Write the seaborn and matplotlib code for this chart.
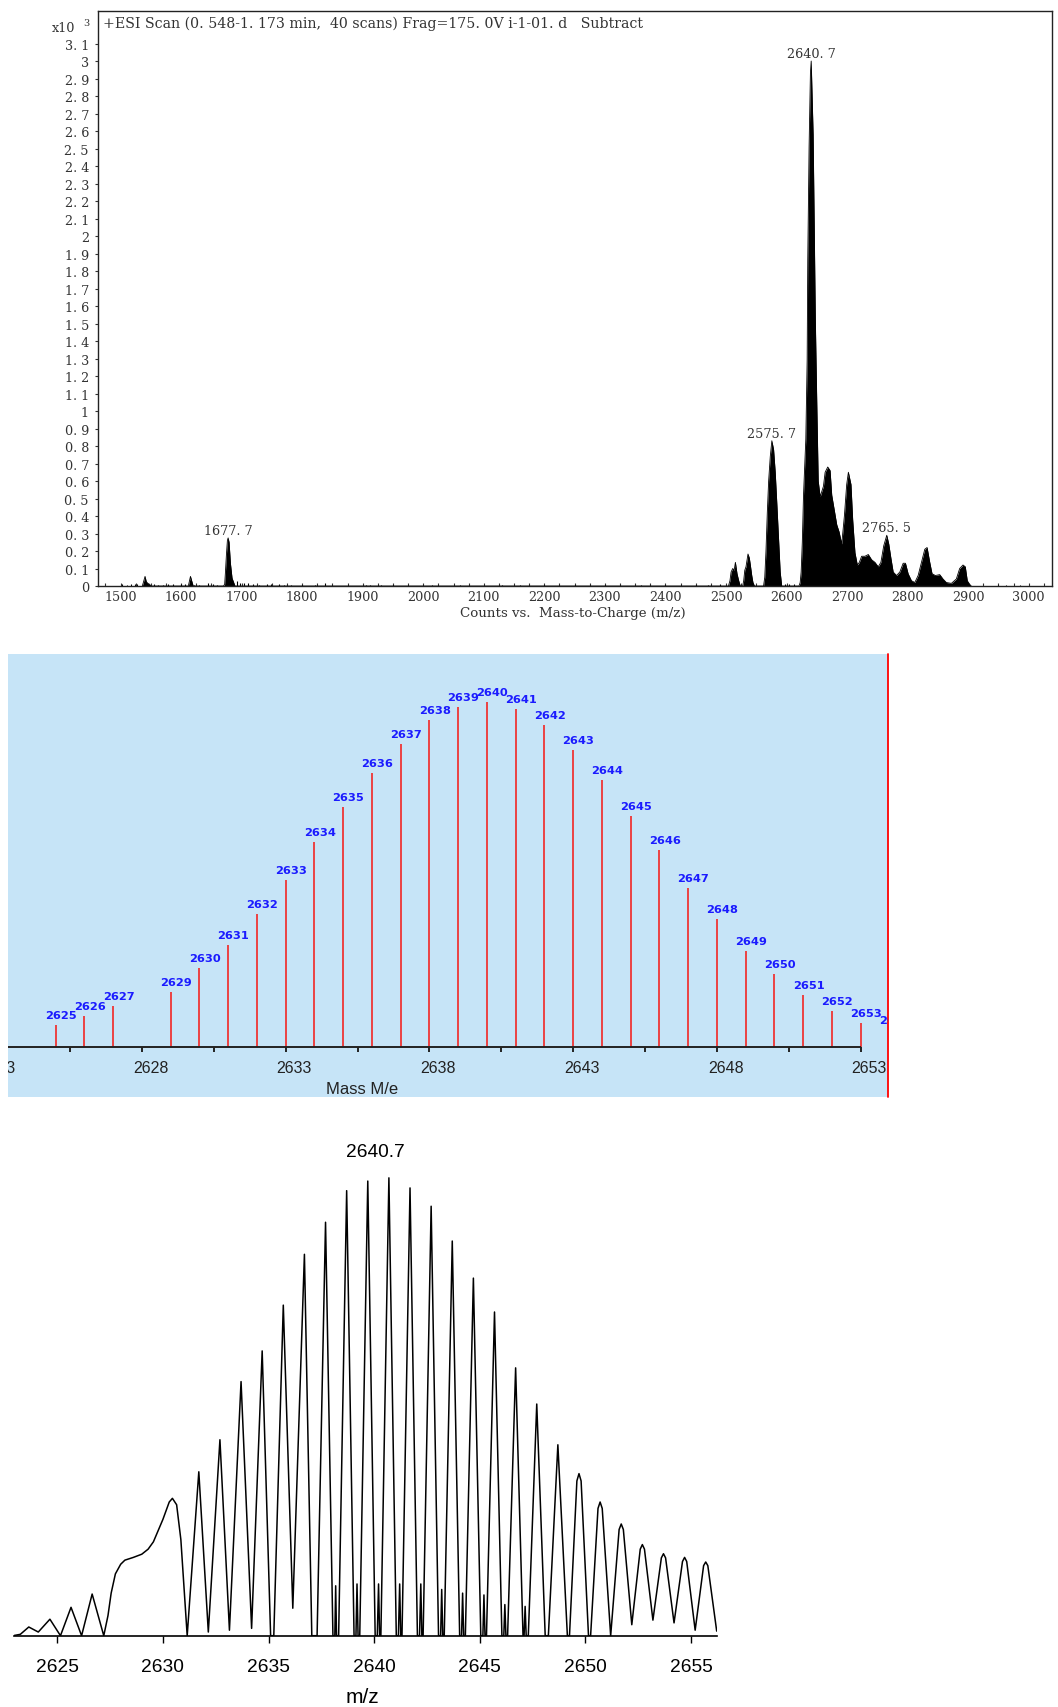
import numpy as np
import pandas as pd
import matplotlib
matplotlib.use("Agg")
import matplotlib.pyplot as plt
import seaborn as sns

# ---------------- Panel 1: ESI scan (counts x10^3 vs m/z) ----------------
ms_mz = [1536, 1538.5, 1540.5, 1542.5, 1545, 1548, 1550,
         1612, 1615.5, 1617.5, 1620,
         1670, 1672, 1673.2, 1674.9, 1676.5, 1677.7, 1679.3, 1681.5, 1684.2, 1686.9, 1689,
         2504, 2506.5, 2508.4, 2511.1, 2513.5, 2515.5, 2518.2, 2521, 2523.5,
         2527.5, 2529.2, 2531, 2533, 2536.3, 2538.5, 2540.2, 2542.5, 2544.5, 2547,
         2562, 2564, 2566, 2568.2, 2570.4, 2573.1, 2575.7, 2578.6, 2581.3, 2584.1, 2586.8, 2589.5, 2592,
         2620.5, 2622.5, 2624.1, 2626, 2628.0, 2631.8, 2634.0, 2635.0, 2637.2, 2639.4, 2640.7,
         2643.9, 2645.5, 2647.5, 2649.8, 2652.3, 2655.5, 2660.9, 2663.7, 2668.0, 2671.9, 2674.6,
         2679.0, 2682.9, 2686.7, 2691.1, 2695.5, 2699.3, 2702.1, 2706.4, 2709.2, 2713.0, 2716.9,
         2720.2, 2724.0, 2729.5, 2735.0, 2740.5, 2746.0, 2751.4, 2755.8, 2760.5, 2765.5, 2768.8,
         2772.3, 2776.1, 2781.6, 2787.1, 2792.6, 2796.4, 2800.8, 2806.3, 2811.8, 2817.3, 2822.8,
         2828.3, 2832.1, 2836.5, 2840.3, 2845.8, 2853.0, 2858.4, 2863.9, 2872.2, 2880.4, 2885.9,
         2891.4, 2895.2, 2898.5, 2902.3, 2905]
ms_int = [0, 0.03, 0.055, 0.025, 0.015, 0.01, 0,
          0, 0.055, 0.03, 0,
          0, 0.01, 0.075, 0.18, 0.26, 0.275, 0.25, 0.13, 0.045, 0.02, 0,
          0, 0.03, 0.08, 0.10, 0.09, 0.135, 0.07, 0.03, 0.0,
          0.0, 0.03, 0.09, 0.11, 0.183, 0.16, 0.12, 0.06, 0.02, 0,
          0, 0.05, 0.20, 0.42, 0.60, 0.74, 0.83, 0.78, 0.65, 0.46, 0.27, 0.08, 0,
          0, 0.02, 0.08, 0.25, 0.52, 0.84, 1.29, 1.86, 2.51, 2.93, 3.00,
          2.58, 2.12, 1.53, 1.07, 0.60, 0.51, 0.57, 0.65, 0.68, 0.66, 0.52,
          0.43, 0.35, 0.31, 0.24, 0.40, 0.58, 0.65, 0.58, 0.38, 0.19, 0.12,
          0.135, 0.17, 0.17, 0.18, 0.15, 0.135, 0.11, 0.135, 0.23, 0.29, 0.24,
          0.16, 0.08, 0.06, 0.08, 0.13, 0.13, 0.07, 0.03, 0.02, 0.06, 0.135,
          0.21, 0.22, 0.135, 0.07, 0.06, 0.065, 0.04, 0.02, 0.015, 0.04, 0.10,
          0.12, 0.11, 0.03, 0.01, 0]
noise_mz = [1503, 1510, 1518, 1524, 1528, 1555, 1562, 1570, 1578, 1586, 1600, 1606,
            1622, 1630, 1645, 1652, 1660, 1692, 1697, 1704, 1710, 1718, 1728, 1742,
            1748, 1762, 1770, 1782, 1800, 1822, 1838, 1905, 1912, 1930, 1950, 2015,
            2060, 2130, 2160, 2200, 2250, 2300, 2360, 2400, 2450, 2470, 2490, 2598,
            2604, 2612, 2950, 2962, 2985]
noise_int = [0.01, 0.008, 0.01, 0.012, 0.01, 0.01, 0.008, 0.008, 0.01, 0.01, 0.01, 0.012,
             0.008, 0.008, 0.015, 0.01, 0.008, 0.03, 0.02, 0.015, 0.02, 0.012, 0.008, 0.012,
             0.01, 0.01, 0.008, 0.008, 0.006, 0.008, 0.015, 0.006, 0.006, 0.005, 0.005, 0.005,
             0.004, 0.004, 0.005, 0.004, 0.005, 0.005, 0.006, 0.005, 0.005, 0.006, 0.01, 0.01,
             0.012, 0.01, 0.006, 0.008, 0.008]
top_label_mz = [1677.7, 2575.7, 2640.7, 2765.5]
top_label_int = [0.275, 0.83, 3.00, 0.29]
top_header = "+ESI Scan (0. 548-1. 173 min,  40 scans) Frag=175. 0V i-1-01. d   Subtract"
top_xlabel = "Counts vs.  Mass-to-Charge (m/z)"
top_xticks = list(range(1500, 3001, 100))
top_yticks = [round(0.1 * i, 1) for i in range(32)]

# ---------------- Panel 2: theoretical isotope sticks ----------------
iso_mass = [2625, 2626, 2627, 2629, 2630, 2631, 2632, 2633, 2634, 2635, 2636, 2637, 2638,
            2639, 2640, 2641, 2642, 2643, 2644, 2645, 2646, 2647, 2648, 2649, 2650, 2651,
            2652, 2653, 2654]
iso_int = [6.5, 9.0, 12.0, 16.0, 23.0, 29.5, 38.5, 48.5, 59.6, 69.5, 79.5, 87.9, 95.0,
           98.5, 100.0, 98.0, 93.4, 86.1, 77.5, 67.0, 57.1, 46.0, 37.0, 27.9, 21.1, 15.0,
           10.5, 7.0, 4.9]
mid_major = [2623, 2628, 2633, 2638, 2643, 2648, 2653]
mid_minor = [2625.5, 2630.5, 2635.5, 2640.5, 2645.5, 2650.5]

# ---------------- Panel 3: measured isotope profile ----------------
prof_mz = [2622.90, 2623.25, 2623.65, 2624.10, 2624.65, 2625.15, 2625.65, 2626.15, 2626.65,
           2627.20, 2627.40, 2627.55, 2627.75, 2628.00, 2628.20, 2628.60, 2629.00, 2629.30,
           2629.55, 2630.00, 2630.30, 2630.45, 2630.65, 2630.85, 2631.15, 2631.70, 2632.15,
           2632.70, 2633.15, 2633.70, 2634.20, 2634.70, 2635.10, 2635.25, 2635.70, 2636.15,
           2636.70, 2637.05, 2637.30, 2637.70, 2638.05, 2638.14, 2638.18, 2638.22, 2638.32,
           2638.70, 2639.05, 2639.14, 2639.19, 2639.24, 2639.32, 2639.70, 2640.05, 2640.15,
           2640.21, 2640.26, 2640.32, 2640.70, 2641.05, 2641.15, 2641.21, 2641.26, 2641.32,
           2641.70, 2642.05, 2642.15, 2642.21, 2642.26, 2642.32, 2642.70, 2643.05, 2643.15,
           2643.20, 2643.25, 2643.32, 2643.70, 2644.05, 2644.14, 2644.19, 2644.24, 2644.32,
           2644.70, 2645.05, 2645.15, 2645.20, 2645.25, 2645.32, 2645.70, 2646.05, 2646.14,
           2646.19, 2646.24, 2646.32, 2646.70, 2647.05, 2647.10, 2647.15, 2647.20, 2647.30,
           2647.70, 2648.10, 2648.25, 2648.70, 2649.15, 2649.25, 2649.60, 2649.70, 2649.80,
           2650.15, 2650.25, 2650.60, 2650.70, 2650.80, 2651.20, 2651.60, 2651.70, 2651.80,
           2652.20, 2652.60, 2652.70, 2652.80, 2653.20, 2653.60, 2653.70, 2653.80, 2654.20,
           2654.60, 2654.70, 2654.80, 2655.20, 2655.60, 2655.70, 2655.80, 2656.22]
prof_int = [0.0, 0.3, 1.9, 0.8, 3.6, 0.0, 6.2, 0.0, 9.1,
            0.0, 4.4, 9.3, 13.5, 15.6, 16.5, 17.1, 17.8, 18.9,
            20.5, 25.4, 29.2, 30.0, 28.6, 21.0, 0.0, 35.8, 0.8,
            42.8, 1.2, 55.5, 1.6, 62.2, 0.0, 0.0, 72.2, 6.0,
            83.3, 0.0, 0.0, 90.3, 0.0, 0.0, 10.9, 0.0, 0.0,
            97.2, 0.0, 0.0, 11.3, 0.0, 0.0, 99.3, 0.0, 0.0,
            11.3, 0.0, 0.0, 100.0, 0.0, 0.0, 11.3, 0.0, 0.0,
            97.8, 0.0, 0.0, 11.3, 0.0, 0.0, 93.8, 0.0, 0.0,
            10.1, 0.0, 0.0, 86.2, 0.0, 0.0, 9.3, 0.0, 0.0,
            78.1, 0.0, 0.0, 8.9, 0.0, 0.0, 70.7, 0.0, 0.0,
            6.8, 0.0, 0.0, 58.5, 0.0, 0.0, 6.4, 0.0, 0.0,
            50.6, 0.0, 0.0, 41.7, 0.0, 0.0, 33.8, 35.4, 33.8,
            0.0, 0.0, 27.8, 29.2, 27.8, 0.0, 23.2, 24.4, 23.2,
            2.4, 18.9, 19.9, 18.9, 3.4, 17.0, 17.9, 17.0, 2.8,
            16.2, 17.1, 16.2, 1.2, 15.3, 16.1, 15.3, 1.0]
bot_xticks = [2625, 2630, 2635, 2640, 2645, 2650, 2655]
bot_peak_mz = 2640.7
bot_peak_int = 100.0

# ---------------- figure ----------------
sns.set_style("white")
plt.rcParams['font.family'] = ['Liberation Sans', 'DejaVu Sans']

W, H = 1058, 1708
fig = plt.figure(figsize=(W / 100, H / 100), dpi=100)
fig.patch.set_facecolor("white")


def box(l, t, r, b):
    return [l / W, 1 - b / H, (r - l) / W, (b - t) / H]


SERIF = "DejaVu Serif"
TXT = "#333333"
FS1 = 9.2

# ---- Panel 1 ----
ax1 = fig.add_axes(box(98, 12, 1052, 587))
ax1.fill_between(ms_mz, ms_int, 0, color="black", lw=0)
ax1.plot(ms_mz, ms_int, color="black", lw=0.6)
ax1.vlines(noise_mz, 0, noise_int, color="black", lw=0.8)
ax1.set_xlim(1462.8, 3038.4)
ax1.set_ylim(0, 3.286)
for sp in ax1.spines.values():
    sp.set_color("#222222")
    sp.set_linewidth(1.0)
ax1.set_xticks(top_xticks)
ax1.set_xticklabels([str(t) for t in top_xticks], fontfamily=SERIF, fontsize=FS1, color=TXT)
ax1.set_xticks(list(range(1475, 3036, 25)), minor=True)
ax1.set_yticks(top_yticks)
ylabs = []
for v in top_yticks:
    ylabs.append(str(int(v)) if float(v).is_integer() else f"{v:.1f}".replace(".", ". "))
ax1.set_yticklabels(ylabs, fontfamily=SERIF, fontsize=FS1, color=TXT)
ax1.tick_params(axis="x", which="both", direction="in", length=2.5, width=0.8,
                color="#333333", pad=3.2, bottom=True)
ax1.tick_params(axis="y", direction="out", length=2.5, width=0.8, color="#333333",
                pad=4, left=True)
ax1.text(0.0052, 0.979, top_header, transform=ax1.transAxes, ha="left", va="center",
         fontfamily=SERIF, fontsize=10.2, color=TXT)
for m, v in zip(top_label_mz, top_label_int):
    ax1.annotate(f"{m:.1f}".replace(".", ". "), xy=(m, v), xytext=(0, 5.5),
                 textcoords="offset points", ha="center", va="center",
                 fontfamily=SERIF, fontsize=FS1, color=TXT)
fig.text(63.5 / W, 1 - 28 / H, "x10", ha="center", va="center", fontfamily=SERIF,
         fontsize=FS1, color=TXT)
fig.text(86 / W, 1 - 23 / H, "3", ha="center", va="center", fontfamily=SERIF,
         fontsize=7, color=TXT)
fig.text(573 / W, 1 - 613 / H, top_xlabel, ha="center", va="center", fontfamily=SERIF,
         fontsize=9.6, color=TXT)

# ---- Panel 2 ----
ax2 = fig.add_axes(box(8, 655, 888, 1098))
ax2.set_facecolor("#c6e4f7")
for sp in ax2.spines.values():
    sp.set_visible(False)
ax2.set_xticks([])
ax2.set_yticks([])
x0, x1 = 2623.34, 2653.95
ax2.set_xlim(x0, x1)
ax2.set_ylim(-14.5, 114.0)
ax2.vlines(iso_mass, 0, iso_int, color="#ee3535", lw=1.3)
ax2.hlines(0, x0, mid_major[-1], color="#222222", lw=1.4)
ax2.vlines(mid_major + mid_minor, -1.5, 0, color="#222222", lw=1.4)
for t in mid_major:
    xl = t if t < x0 else t + 0.3
    ax2.text(xl, -5.8, str(t), ha="center", va="center", fontsize=11.5,
             color="#222222", clip_on=True)
for m, v in zip(iso_mass, iso_int):
    ax2.annotate(str(m), xy=(m, v), xytext=(3.8, 7.2), textcoords="offset points",
                 ha="center", va="center", fontfamily="DejaVu Sans", fontweight="bold",
                 fontsize=8.2, color="#1a1aff", clip_on=True, annotation_clip=False)
ax2.text(0.402, 0.02, "Mass M/e", transform=ax2.transAxes, ha="center", va="center",
         fontsize=12, color="#222222")
ax2.plot([0.9995, 0.9995], [0, 1], transform=ax2.transAxes, color="#ff0000", lw=1.3,
         clip_on=False)

# ---- Panel 3 ----
ax3 = fig.add_axes(box(14, 1150, 716.7, 1636.7))
df3 = pd.DataFrame({"mz": prof_mz, "intensity": prof_int})
sns.lineplot(data=df3, x="mz", y="intensity", sort=False, estimator=None,
             color="black", lw=1.1, ax=ax3)
ax3.set_xlim(2622.95, 2656.22)
ax3.set_ylim(0, 106.3)
for k in ["top", "left", "right"]:
    ax3.spines[k].set_visible(False)
ax3.spines["bottom"].set_color("black")
ax3.spines["bottom"].set_linewidth(1.2)
ax3.set_yticks([])
ax3.set_xticks(bot_xticks)
ax3.set_xticklabels([str(t) for t in bot_xticks], fontsize=13.8, color="black")
ax3.tick_params(axis="x", direction="out", length=4.8, width=1.0, color="black",
                pad=11, bottom=True)
ax3.set_xlabel("")
ax3.set_ylabel("")
ax3.annotate(f"{bot_peak_mz:.1f}", xy=(bot_peak_mz, bot_peak_int), xytext=(-9.7, 18.7),
             textcoords="offset points", ha="center", va="center", fontsize=13.8,
             color="black", annotation_clip=False)
fig.text(362.5 / W, 1 - 1698 / H, "m/z", ha="center", va="center", fontsize=15,
         color="black")

fig.savefig("out.png", dpi=100, facecolor="white")
